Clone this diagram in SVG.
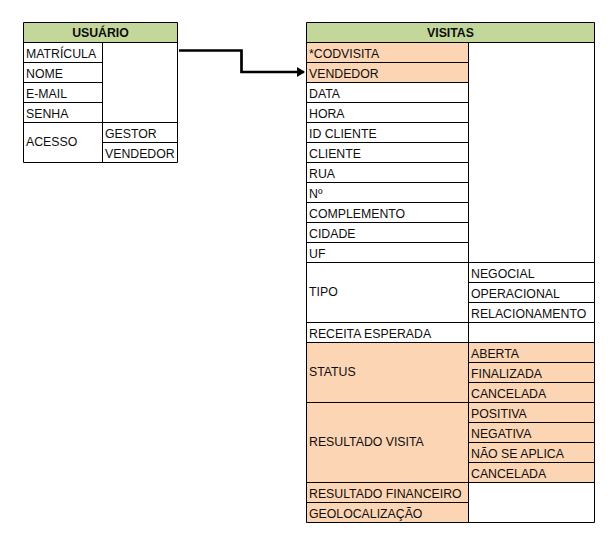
<svg xmlns="http://www.w3.org/2000/svg" width="616" height="542" viewBox="0 0 616 542">
<style>
text{font-family:"Liberation Sans",Arial,sans-serif;font-size:12.3px;fill:#0d0d0d}
.h{font-weight:bold;text-anchor:middle}
.hd{fill:#C4D79B}
.pe{fill:#FCD5B4}
.ln{stroke:#000;stroke-width:1;fill:none}
</style>
<defs>
<marker id="ah" markerWidth="8" markerHeight="10" refX="7" refY="5" orient="auto" markerUnits="userSpaceOnUse">
<path d="M0,0 L8,5 L0,10 Z" fill="#000"/>
</marker>
</defs>
<rect width="616" height="542" fill="#fff"/>
<g id="usuario">
<rect class="hd" x="23.5" y="22.5" width="154" height="20"/>
<path class="ln" d="M23.5,22.5H177.5V162.5H23.5Z M23.5,42.5H177.5 M23.5,62.5H102.5 M23.5,82.5H102.5 M23.5,102.5H102.5 M23.5,122.5H177.5 M102.5,142.5H177.5 M102.5,42.5V162.5"/>
<text class="h" x="100.5" y="37">USUÁRIO</text>
<text x="26" y="58">MATRÍCULA</text>
<text x="26" y="78">NOME</text>
<text x="26" y="98">E-MAIL</text>
<text x="26" y="118">SENHA</text>
<text x="26" y="146">ACESSO</text>
<text x="105" y="138">GESTOR</text>
<text x="105" y="158">VENDEDOR</text>
</g>
<g id="visitas">
<rect class="hd" x="306.5" y="22.5" width="288" height="20"/>
<rect class="pe" x="306.5" y="42.5" width="162" height="40"/>
<rect class="pe" x="306.5" y="342.5" width="288" height="140"/>
<rect class="pe" x="306.5" y="482.5" width="162" height="40"/>
<path class="ln" d="M306.5,22.5H594.5V522.5H306.5Z M306.5,42.5H594.5 M468.5,42.5V522.5
M306.5,62.5H468.5 M306.5,82.5H468.5 M306.5,102.5H468.5 M306.5,122.5H468.5 M306.5,142.5H468.5 M306.5,162.5H468.5 M306.5,182.5H468.5 M306.5,202.5H468.5 M306.5,222.5H468.5 M306.5,242.5H468.5
M306.5,262.5H594.5 M468.5,282.5H594.5 M468.5,302.5H594.5 M306.5,322.5H594.5 M306.5,342.5H594.5 M468.5,362.5H594.5 M468.5,382.5H594.5 M306.5,402.5H594.5 M468.5,422.5H594.5 M468.5,442.5H594.5 M468.5,462.5H594.5 M306.5,482.5H594.5 M306.5,502.5H468.5"/>
<text class="h" x="450.5" y="37">VISITAS</text>
<text x="309" y="58">*CODVISITA</text>
<text x="309" y="78">VENDEDOR</text>
<text x="309" y="98">DATA</text>
<text x="309" y="118">HORA</text>
<text x="309" y="138">ID CLIENTE</text>
<text x="309" y="158">CLIENTE</text>
<text x="309" y="178">RUA</text>
<text x="309" y="198">Nº</text>
<text x="309" y="218">COMPLEMENTO</text>
<text x="309" y="238">CIDADE</text>
<text x="309" y="258">UF</text>
<text x="309" y="296">TIPO</text>
<text x="471" y="278">NEGOCIAL</text>
<text x="471" y="298">OPERACIONAL</text>
<text x="471" y="318">RELACIONAMENTO</text>
<text x="309" y="338">RECEITA ESPERADA</text>
<text x="309" y="376">STATUS</text>
<text x="471" y="358">ABERTA</text>
<text x="471" y="378">FINALIZADA</text>
<text x="471" y="398">CANCELADA</text>
<text x="309" y="446">RESULTADO VISITA</text>
<text x="471" y="418">POSITIVA</text>
<text x="471" y="438">NEGATIVA</text>
<text x="471" y="458">NÃO SE APLICA</text>
<text x="471" y="478">CANCELADA</text>
<text x="309" y="498">RESULTADO FINANCEIRO</text>
<text x="309" y="518">GEOLOCALIZAÇÃO</text>
</g>
<g id="connectors">
<path d="M179,50.5H241.5V72H304" fill="none" stroke="#000" stroke-width="2.7" marker-end="url(#ah)"/>
</g>
</svg>
